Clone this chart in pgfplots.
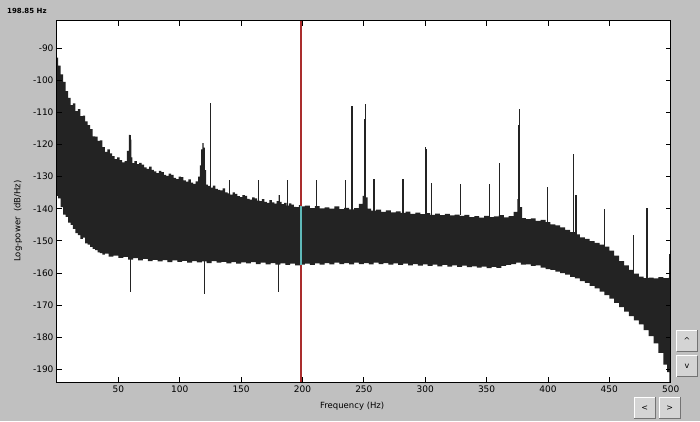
\documentclass[border=0pt]{standalone}
\usepackage{pgfplots}
\pgfplotsset{compat=1.18}
\usepackage{pgfplotstable}
\usepackage{fontspec}
\setmainfont{DejaVu Sans}
\definecolor{bg}{RGB}{192,192,192}
\definecolor{spec}{RGB}{35,35,35}
\definecolor{cursor}{RGB}{170,45,45}
\definecolor{cursorx}{RGB}{95,185,185}
\definecolor{btn}{RGB}{212,212,212}

\pgfplotstableread{
f v
0 -93.0
2 -95.5
4 -98.2
6 -100.5
8 -103.4
10 -105.5
12 -107.8
14 -107.2
16 -109.6
18 -109.0
20 -111.2
22 -111.0
24 -112.8
26 -114.0
28 -115.2
30 -117.5
32 -117.6
34 -118.9
36 -118.7
38 -120.8
40 -122.3
42 -121.5
44 -122.8
46 -123.6
48 -124.6
50 -124.0
52 -124.9
54 -125.6
56 -125.2
58 -122.0
59 -117.0
60 -118.5
61 -124.0
62 -125.8
64 -125.2
66 -126.1
68 -125.7
70 -126.3
72 -127.1
74 -127.6
76 -126.9
78 -127.9
80 -128.4
82 -128.9
84 -128.2
86 -128.6
88 -129.5
90 -129.8
92 -129.1
94 -129.5
96 -130.4
98 -130.8
100 -130.0
102 -130.2
104 -131.2
106 -131.6
108 -130.9
110 -131.9
112 -132.3
114 -131.5
116 -130.0
117 -126.5
118 -121.5
119 -119.6
120 -121.0
121 -128.0
122 -132.5
124 -132.9
126 -133.4
128 -132.8
130 -133.8
132 -134.1
134 -134.3
136 -133.7
138 -134.9
140 -135.2
142 -135.6
144 -134.9
146 -135.4
148 -136.1
150 -136.4
152 -135.8
154 -136.0
156 -136.9
158 -137.2
160 -136.5
162 -136.8
164 -137.5
166 -137.6
168 -137.0
170 -137.9
172 -138.2
174 -137.3
176 -138.0
178 -138.4
180 -137.6
181 -135.8
182 -137.9
184 -138.6
186 -138.2
188 -139.0
190 -138.3
192 -138.7
194 -139.4
196 -139.5
198 -138.9
200 -139.3
204 -139.0
208 -139.8
212 -139.2
216 -139.9
220 -139.6
224 -140.0
228 -139.3
232 -140.1
236 -139.7
240 -140.2
244 -139.8
248 -138.5
250 -136.0
252 -136.5
254 -140.0
258 -140.6
262 -140.3
266 -141.0
270 -140.5
274 -141.1
278 -140.8
282 -141.3
286 -140.9
290 -141.6
294 -141.2
298 -141.7
302 -141.4
306 -141.9
310 -141.5
314 -142.0
318 -141.6
322 -142.1
326 -141.8
330 -142.2
334 -141.9
338 -142.6
342 -142.3
346 -142.8
350 -142.2
354 -142.6
358 -142.4
362 -142.0
366 -142.7
370 -142.3
374 -141.0
376 -137.0
378 -139.5
380 -142.9
384 -143.2
388 -143.0
392 -143.8
396 -143.5
400 -144.2
404 -144.9
408 -145.2
412 -145.8
416 -146.6
420 -147.3
424 -148.0
428 -148.9
432 -149.4
436 -150.1
440 -150.6
444 -151.2
448 -151.8
452 -153.0
456 -154.6
460 -156.3
464 -157.6
468 -159.0
472 -160.2
476 -161.1
480 -161.6
484 -161.4
488 -161.7
492 -161.3
496 -161.6
500 -161.5
}\uppertab

\pgfplotstableread{
f v
0 -136.0
2 -136.8
4 -139.5
6 -141.8
8 -142.5
10 -144.3
12 -145.0
14 -146.3
16 -147.6
18 -148.2
20 -149.4
22 -149.0
24 -150.8
26 -151.2
28 -151.9
30 -152.5
32 -152.9
34 -153.6
36 -153.8
38 -154.3
40 -154.0
44 -154.9
48 -154.6
52 -155.3
56 -155.0
60 -155.8
64 -155.4
68 -156.1
72 -155.6
76 -156.3
80 -155.9
84 -156.4
88 -156.0
92 -156.6
96 -156.1
100 -156.5
104 -156.2
108 -156.8
112 -156.3
116 -156.7
120 -156.4
124 -156.9
128 -156.3
132 -156.8
136 -156.5
140 -157.0
144 -156.6
148 -157.1
152 -156.7
156 -157.0
160 -156.6
164 -157.2
168 -156.8
172 -157.3
176 -156.9
180 -157.4
184 -157.0
188 -157.5
192 -157.1
196 -157.6
200 -157.4
204 -157.1
208 -157.5
212 -157.0
216 -157.4
220 -156.9
224 -157.3
228 -156.8
232 -157.2
236 -156.9
240 -157.3
244 -156.8
248 -157.2
252 -156.9
256 -157.3
260 -156.8
264 -157.2
268 -156.9
272 -157.4
276 -157.0
280 -157.5
284 -157.1
288 -157.6
292 -157.2
296 -157.7
300 -157.3
304 -157.8
308 -157.4
312 -157.9
316 -157.5
320 -158.0
324 -157.6
328 -158.1
332 -157.7
336 -158.2
340 -157.9
344 -158.3
348 -158.0
352 -158.5
356 -158.1
360 -158.4
364 -157.8
368 -157.5
372 -157.2
376 -156.8
380 -157.4
384 -157.3
388 -157.8
392 -157.6
396 -158.3
400 -158.8
404 -159.0
408 -159.6
412 -160.0
416 -160.5
420 -161.2
424 -161.7
428 -162.5
432 -163.1
436 -164.0
440 -164.8
444 -165.8
448 -166.9
452 -168.0
456 -169.3
460 -170.6
464 -172.0
468 -173.4
472 -174.7
476 -176.0
480 -177.8
484 -179.6
488 -181.9
492 -184.8
496 -188.5
498 -190.8
500 -194.0
}\lowertab

\pgfplotstablesort[sort key=f, sort cmp=float >]{\lowrev}{\lowertab}
\pgfplotstablevertcat{\uppertab}{\lowrev}

\begin{document}
\begin{tikzpicture}
\fill[bg] (-57pt,-39pt) rectangle (643pt,382pt);
\node[anchor=west,inner sep=0pt,font=\fontsize{7}{8}\selectfont\bfseries] at (-50pt,371pt) {198.85 Hz};
\begin{axis}[
  at={(0pt,0pt)}, anchor=south west,
  scale only axis, width=613.7pt, height=361pt,
  xmin=0, xmax=500, ymin=-193.9, ymax=-81.6,
  xtick={50,100,...,500},
  ytick={-190,-180,...,-90},
  tick align=inside, tick pos=both,
  major tick length=5pt,
  axis line style={black, line width=1pt},
  every tick/.style={black, line width=0.9pt},
  axis background/.style={fill=white},
  axis on top=true,
  /pgf/number format/assume math mode=true,
  tick label style={font=\fontsize{9}{10}\selectfont},
  xlabel={Frequency (Hz)},
  ylabel={Log-power\ \ (dB/Hz)},
  label style={font=\fontsize{8.5}{10}\selectfont},
  xlabel style={at={(axis description cs:0.481,-0.066)}, anchor=center},
  ylabel style={at={(axis description cs:-0.0636,0.446)}, anchor=center},
  unbounded coords=jump,
]
\addplot[fill=spec, draw=none, const plot mark mid] table[x=f,y=v] {\uppertab};
% upward spikes
\addplot[spec, line width=1.5pt] coordinates {
(59.5,-135) (59.5,-117) (59.5,nan)
(125.2,-135) (125.2,-107) (125.2,nan)
(140.4,-137) (140.4,-131) (140.4,nan)
(164,-139) (164,-131) (164,nan)
(187.7,-140) (187.7,-131.2) (187.7,nan)
(211.6,-141) (211.6,-131) (211.6,nan)
(235,-141) (235,-131) (235,nan)
(239.8,-141) (239.8,-109) (239.8,nan)
(240.5,-141) (240.5,-108) (240.5,nan)
(250.5,-141) (250.5,-112) (250.5,nan)
(251.3,-141) (251.3,-107.4) (251.3,nan)
(258.4,-141) (258.4,-130.7) (258.4,nan)
(281.7,-142) (281.7,-130.7) (281.7,nan)
(300.4,-142) (300.4,-120.8) (300.4,nan)
(300.9,-142) (300.9,-121.5) (300.9,nan)
(305.3,-142) (305.3,-132) (305.3,nan)
(328.7,-142) (328.7,-132.2) (328.7,nan)
(352.3,-143) (352.3,-132.2) (352.3,nan)
(360.5,-143) (360.5,-125.8) (360.5,nan)
(376.3,-143) (376.3,-114) (376.3,nan)
(376.8,-143) (376.8,-109) (376.8,nan)
(399.6,-145) (399.6,-133.3) (399.6,nan)
(420.8,-148) (420.8,-123) (420.8,nan)
(423,-149) (423,-135.6) (423,nan)
(446,-152) (446,-140) (446,nan)
(469.7,-160) (469.7,-148.1) (469.7,nan)
(480.6,-162) (480.6,-139.8) (480.6,nan)
(499.4,-162) (499.4,-154) (499.4,nan)
};
% downward spikes
\addplot[spec, line width=1.3pt] coordinates {
(59.8,-152) (59.8,-166) (59.8,nan)
(120.3,-152) (120.3,-166.4) (120.3,nan)
(180.2,-152) (180.2,-166) (180.2,nan)
};
% cursor
\addplot[cursor, line width=1.3pt] coordinates {(198.85,-193.9) (198.85,-81.6)};
\addplot[cursorx, line width=1.3pt] coordinates {(198.85,-157.4) (198.85,-139.3)};
\end{axis}
% buttons
\foreach \xa/\ya/\xb/\yb/\t in {619.7/31/640.3/52/\textasciicircum, 619.7/5.3/640.3/26.3/v, 577.3/-36.3/598.3/-15.3/<, 602.3/-36.3/623/-15.3/>}{
  \fill[btn] (\xa pt,\ya pt) rectangle (\xb pt,\yb pt);
  \draw[white, line width=1pt] (\xa pt,\ya pt) -- (\xa pt,\yb pt) -- (\xb pt,\yb pt);
  \draw[black!55, line width=1pt] (\xb pt,\yb pt) -- (\xb pt,\ya pt) -- (\xa pt,\ya pt);
  \node[font=\fontsize{8}{9}\selectfont, inner sep=0pt] at ({(\xa+\xb)/2*1pt},{(\ya+\yb)/2*1pt}) {\t};
}
\pgfresetboundingbox
\path[use as bounding box] (-57pt,-39pt) rectangle (643pt,382pt);
\end{tikzpicture}
\end{document}
